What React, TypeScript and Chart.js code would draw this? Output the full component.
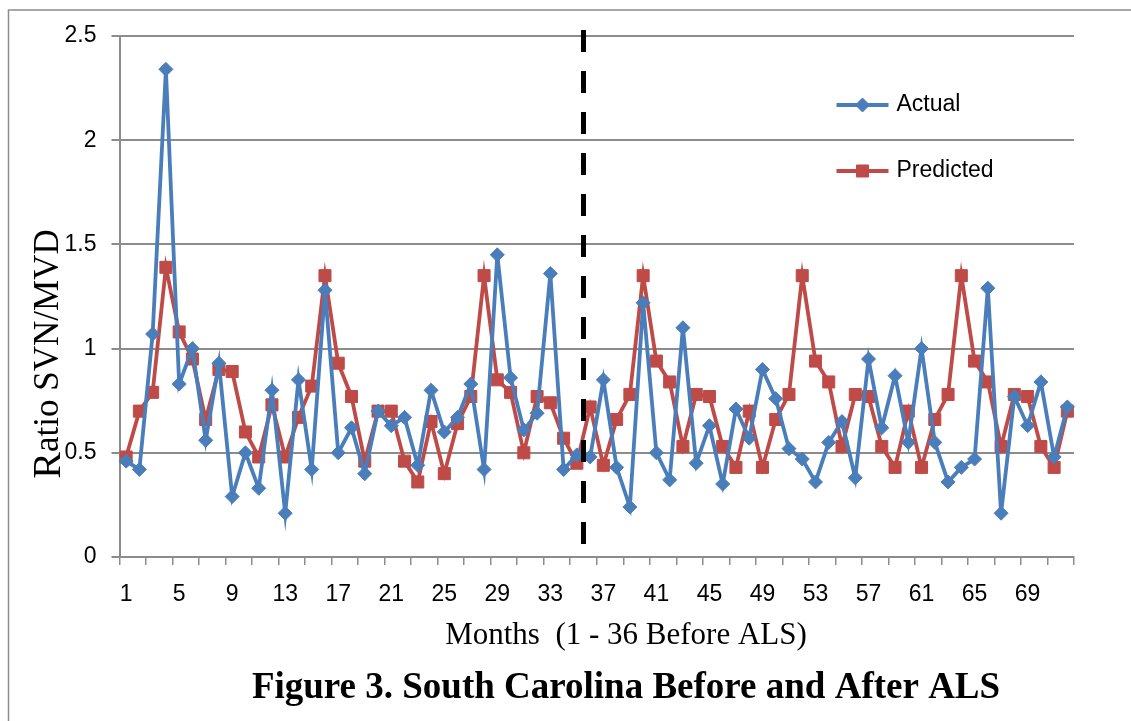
import React, { useEffect, useRef } from 'react';
import { Chart, registerables } from 'chart.js';

Chart.register(...registerables);

const months: string[] = [
  '1','2','3','4','5','6','7','8','9','10','11','12','13','14','15','16','17','18',
  '19','20','21','22','23','24','25','26','27','28','29','30','31','32','33','34','35','36',
  '37','38','39','40','41','42','43','44','45','46','47','48','49','50','51','52','53','54',
  '55','56','57','58','59','60','61','62','63','64','65','66','67','68','69','70','71','72',
];

const actual: number[] = [
  0.46, 0.42, 1.07, 2.34, 0.83, 1.00, 0.56, 0.93, 0.29, 0.50, 0.33, 0.80,
  0.21, 0.85, 0.42, 1.28, 0.50, 0.62, 0.40, 0.70, 0.63, 0.67, 0.44, 0.80,
  0.60, 0.67, 0.83, 0.42, 1.45, 0.86, 0.61, 0.69, 1.36, 0.42, 0.49, 0.48,
  0.85, 0.43, 0.24, 1.22, 0.50, 0.37, 1.10, 0.45, 0.63, 0.35, 0.71, 0.57,
  0.90, 0.76, 0.52, 0.47, 0.36, 0.55, 0.65, 0.38, 0.95, 0.62, 0.87, 0.55,
  1.00, 0.55, 0.36, 0.43, 0.47, 1.29, 0.21, 0.77, 0.63, 0.84, 0.48, 0.72,
];

const predicted: number[] = [
  0.48, 0.70, 0.79, 1.39, 1.08, 0.95, 0.66, 0.90, 0.89, 0.60, 0.48, 0.73,
  0.48, 0.67, 0.82, 1.35, 0.93, 0.77, 0.46, 0.70, 0.70, 0.46, 0.36, 0.65,
  0.40, 0.64, 0.77, 1.35, 0.85, 0.79, 0.50, 0.77, 0.74, 0.57, 0.45, 0.72,
  0.44, 0.66, 0.78, 1.35, 0.94, 0.84, 0.53, 0.78, 0.77, 0.53, 0.43, 0.70,
  0.43, 0.66, 0.78, 1.35, 0.94, 0.84, 0.53, 0.78, 0.77, 0.53, 0.43, 0.70,
  0.43, 0.66, 0.78, 1.35, 0.94, 0.84, 0.53, 0.78, 0.77, 0.53, 0.43, 0.70,
];

// month boundary where ALS begins (between month 35 and 36)
const alsBoundaryMonth = 35.5;

const seriesNames = ['Actual', 'Predicted'];
const xAxisTitle = 'Months  (1 - 36 Before ALS)';
const yAxisTitleFirst = 'R';
const yAxisTitleRest = 'atio SVN/MVD';
const figureTitle = 'Figure 3. South Carolina Before and After ALS';

const BLUE = '#4a7ebb';
const RED = '#be4b48';
const GRID = '#8c8c8c';

function drawMarker(ctx: CanvasRenderingContext2D, style: string, x: number, y: number, r: number, color: string) {
  ctx.save();
  ctx.fillStyle = color;
  ctx.strokeStyle = color;
  ctx.lineWidth = 1;
  ctx.beginPath();
  if (style === 'rectRot') {
    ctx.moveTo(x, y - r);
    ctx.lineTo(x + r, y);
    ctx.lineTo(x, y + r);
    ctx.lineTo(x - r, y);
    ctx.closePath();
  } else {
    const s = r * Math.SQRT1_2;
    ctx.rect(x - s, y - s, 2 * s, 2 * s);
  }
  ctx.fill();
  ctx.stroke();
  ctx.restore();
}

const overlayPlugin = {
  id: 'overlay',
  afterDatasetsDraw(chart: any) {
    const { ctx, chartArea, scales } = chart;
    const x = scales.x;
    // dashed ALS line
    const px = x.getPixelForValue(alsBoundaryMonth - 1);
    ctx.save();
    ctx.strokeStyle = '#000';
    ctx.lineWidth = 5;
    ctx.setLineDash([22, 19]);
    ctx.beginPath();
    ctx.moveTo(px, chartArea.top - 6);
    ctx.lineTo(px, chartArea.bottom);
    ctx.stroke();
    ctx.restore();

    // legend
    const items = [
      { name: seriesNames[0], color: BLUE, style: 'rectRot', r: 7, y: chartArea.top + 69 },
      { name: seriesNames[1], color: RED, style: 'rect', r: 8.5, y: chartArea.top + 135 },
    ];
    const lx0 = chartArea.left + 717;
    const lx1 = lx0 + 52;
    for (const it of items) {
      ctx.save();
      ctx.strokeStyle = it.color;
      ctx.lineWidth = 3.8;
      ctx.beginPath();
      ctx.moveTo(lx0, it.y);
      ctx.lineTo(lx1, it.y);
      ctx.stroke();
      drawMarker(ctx, it.style, (lx0 + lx1) / 2, it.y, it.r, it.color);
      ctx.fillStyle = '#000';
      ctx.font = '23px "Liberation Sans", Arial, sans-serif';
      ctx.textBaseline = 'middle';
      ctx.textAlign = 'left';
      ctx.fillText(it.name, lx1 + 8, it.y);
      ctx.restore();
    }
  },
  afterDraw(chart: any) {
    const { ctx } = chart;
    ctx.save();
    // outer border (left + top)
    ctx.strokeStyle = GRID;
    ctx.lineWidth = 1.5;
    ctx.beginPath();
    ctx.moveTo(8.5, chart.height);
    ctx.lineTo(8.5, 10);
    ctx.lineTo(chart.width, 10);
    ctx.stroke();

    ctx.fillStyle = '#000';
    // x axis title
    ctx.font = '31px "Liberation Serif", "Times New Roman", serif';
    ctx.textAlign = 'center';
    ctx.textBaseline = 'middle';
    ctx.fillText(xAxisTitle, 626, 636);

    // figure title
    ctx.font = 'bold 37px "Liberation Serif", "Times New Roman", serif';
    ctx.fillText(figureTitle, 626, 688);

    // y axis title (rotated)
    ctx.translate(49, 354);
    ctx.rotate(-Math.PI / 2);
    ctx.textBaseline = 'middle';
    const f1 = '40px "Liberation Serif", "Times New Roman", serif';
    const f2 = '35px "Liberation Serif", "Times New Roman", serif';
    ctx.font = f1;
    const w1 = ctx.measureText(yAxisTitleFirst).width;
    ctx.font = f2;
    const w2 = ctx.measureText(yAxisTitleRest).width;
    const start = -(w1 + w2) / 2;
    ctx.textAlign = 'left';
    ctx.font = f1;
    ctx.fillText(yAxisTitleFirst, start, 0);
    ctx.font = f2;
    ctx.fillText(yAxisTitleRest, start + w1, 0);
    ctx.restore();
  },
};

export default function App() {
  const ref = useRef<HTMLCanvasElement | null>(null);

  useEffect(() => {
    if (!ref.current) return;
    const chart = new Chart(ref.current, {
      type: 'line',
      data: {
        labels: months,
        datasets: [
          {
            label: seriesNames[0],
            data: actual,
            borderColor: BLUE,
            backgroundColor: BLUE,
            borderWidth: 3.8,
            pointStyle: 'rectRot',
            pointRadius: 7,
            pointBorderWidth: 1,
            tension: 0,
          },
          {
            label: seriesNames[1],
            data: predicted,
            borderColor: RED,
            backgroundColor: RED,
            borderWidth: 3.8,
            pointStyle: 'rect',
            pointRadius: 8.5,
            pointBorderWidth: 1,
            tension: 0,
          },
        ],
      },
      options: {
        responsive: false,
        animation: false,
        layout: { padding: { left: 0, top: 36, right: 57, bottom: 0 } },
        plugins: {
          legend: { display: false },
          tooltip: { enabled: false },
          title: { display: false },
        },
        scales: {
          x: {
            type: 'category',
            offset: true,
            afterFit: (s: any) => { s.height = 164; },
            grid: {
              offset: true,
              drawOnChartArea: false,
              drawTicks: true,
              tickLength: 8,
              lineWidth: 1.5,
              color: (c: any) => (c.index === undefined || c.index % 2 === 0 ? GRID : 'rgba(0,0,0,0)'),
            },
            border: { color: GRID, width: 2 },
            ticks: {
              autoSkip: false,
              maxRotation: 0,
              minRotation: 0,
              padding: 16,
              color: '#000',
              font: { family: '"Liberation Sans", Arial, sans-serif', size: 23 },
              callback: (_v: any, i: number) => (i % 4 === 0 ? months[i] : ''),
            },
          },
          y: {
            min: 0,
            max: 2.5,
            afterFit: (s: any) => { s.width = 119.5; },
            grid: {
              color: GRID,
              lineWidth: 2,
              drawTicks: true,
              tickLength: 8,
            },
            border: { color: GRID, width: 2 },
            ticks: {
              stepSize: 0.5,
              padding: 15,
              color: '#000',
              font: { family: '"Liberation Sans", Arial, sans-serif', size: 23 },
              callback: (v: any) => String(Number(v)),
            },
          },
        },
      },
      plugins: [overlayPlugin],
    } as any);
    return () => chart.destroy();
  }, []);

  return (
    <div style={{ position: 'fixed', left: 0, top: 0, width: 1131, height: 721, overflow: 'hidden', background: '#fff' }}>
      <canvas ref={ref} width={1131} height={721} style={{ display: 'block' }} />
    </div>
  );
}
